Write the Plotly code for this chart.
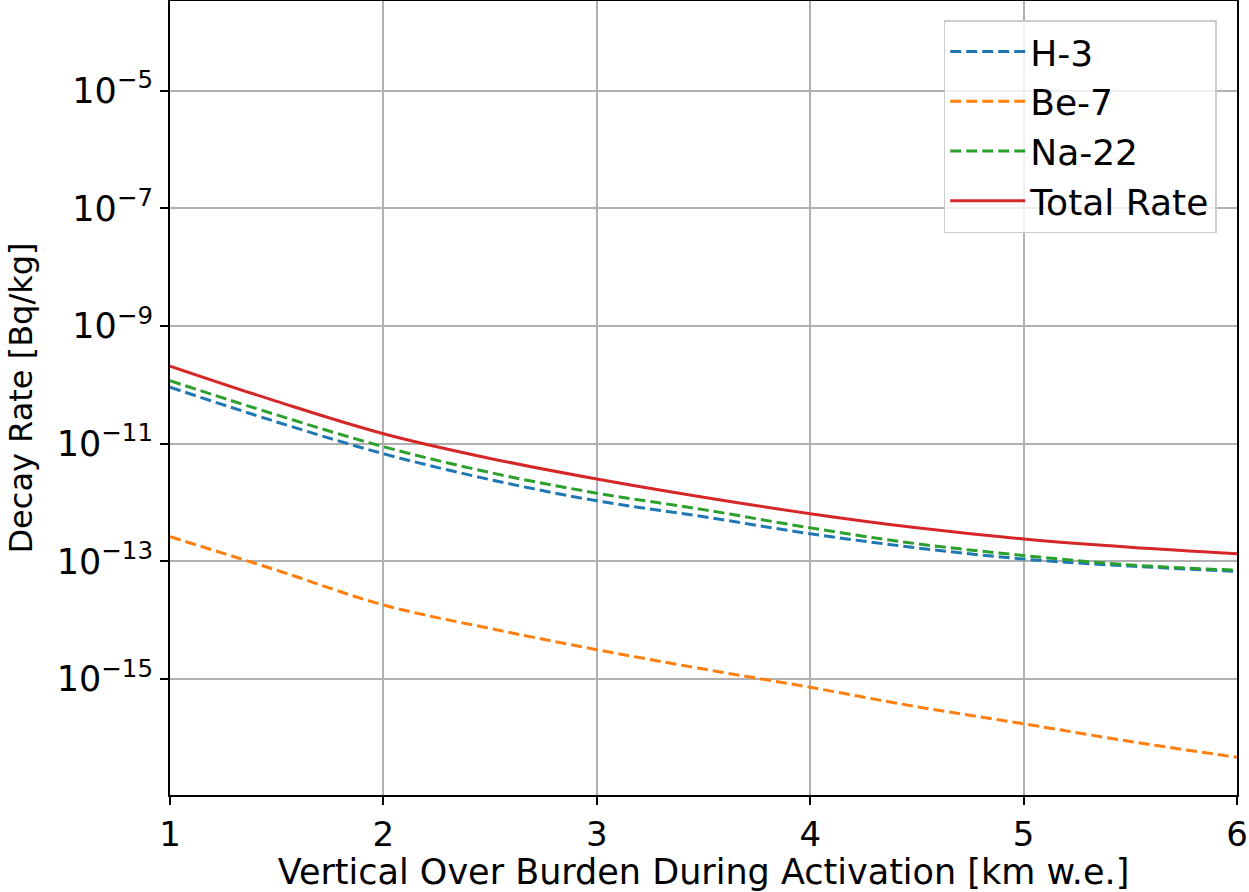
import plotly.graph_objects as go

# Vertical overburden [km w.e.]
overburden = [1.0, 1.5, 2.0, 2.5, 3.0, 3.5, 4.0, 4.5, 5.0, 5.5, 6.0]

# log10 of decay rate [Bq/kg]
log_h3 = [-10.04, -10.63, -11.17, -11.61, -11.97, -12.24, -12.53, -12.77, -12.96, -13.08, -13.17]
log_be7 = [-12.58, -13.15, -13.74, -14.14, -14.50, -14.83, -15.14, -15.47, -15.76, -16.06, -16.33]
log_na22 = [-9.93, -10.51, -11.05, -11.49, -11.84, -12.12, -12.43, -12.70, -12.90, -13.06, -13.15]
log_total = [-9.68, -10.28, -10.83, -11.25, -11.60, -11.91, -12.19, -12.43, -12.62, -12.76, -12.87]

h3 = [10 ** v for v in log_h3]
be7 = [10 ** v for v in log_be7]
na22 = [10 ** v for v in log_na22]
total = [10 ** v for v in log_total]

ytick_exps = [-5, -7, -9, -11, -13, -15]
ytick_vals = [10 ** e for e in ytick_exps]
ytick_text = ["10<sup>\u2212%d</sup>" % (-e) for e in ytick_exps]
xtick_vals = [1, 2, 3, 4, 5, 6]

FONT = "DejaVu Sans"
fig = go.Figure()
dash = "11px,5px"
fig.add_trace(go.Scatter(x=overburden, y=h3, mode="lines", name="H-3",
                         line=dict(color="#1f77b4", width=3, dash=dash, shape="spline")))
fig.add_trace(go.Scatter(x=overburden, y=be7, mode="lines", name="Be-7",
                         line=dict(color="#ff7f0e", width=3, dash=dash, shape="spline")))
fig.add_trace(go.Scatter(x=overburden, y=na22, mode="lines", name="Na-22",
                         line=dict(color="#2ca02c", width=3, dash=dash, shape="spline")))
fig.add_trace(go.Scatter(x=overburden, y=total, mode="lines", name="Total Rate",
                         line=dict(color="#d62728", width=3, shape="spline")))

fig.update_layout(
    width=1249, height=892,
    margin=dict(l=170, r=12, t=1, b=97),
    paper_bgcolor="white", plot_bgcolor="white",
    font=dict(family=FONT, size=33, color="black"),
    legend=dict(x=0.981, y=0.976, xanchor="right", yanchor="top",
                bgcolor="rgba(255,255,255,0.8)", bordercolor="#cccccc", borderwidth=1.5,
                font=dict(size=36), tracegroupgap=0, itemwidth=75),
    xaxis=dict(range=[1, 6], tickvals=xtick_vals, ticks="outside", ticklen=8, tickwidth=1.5,
               tickcolor="black", showline=True, linecolor="black", linewidth=2, mirror=True,
               showgrid=True, gridcolor="#b0b0b0", gridwidth=1.5, zeroline=False,
               automargin=False,
               title=dict(text="Vertical Over Burden During Activation [km w.e.]",
                          font=dict(size=35), standoff=0),
               tickfont=dict(size=34)),
    yaxis=dict(type="log", range=[-16.97, -3.476], tickvals=ytick_vals, ticktext=ytick_text,
               ticks="outside", ticklen=8, tickwidth=1.5, tickcolor="black",
               showline=True, linecolor="black", linewidth=2, mirror=True,
               showgrid=True, gridcolor="#b0b0b0", gridwidth=1.5, zeroline=False,
               automargin=False,
               title=dict(text="Decay Rate [Bq/kg]", font=dict(size=32)),
               tickfont=dict(size=35)),
)

fig.write_html("out.html", config={"displayModeBar": False},
               post_script="document.body.style.margin='0';")
